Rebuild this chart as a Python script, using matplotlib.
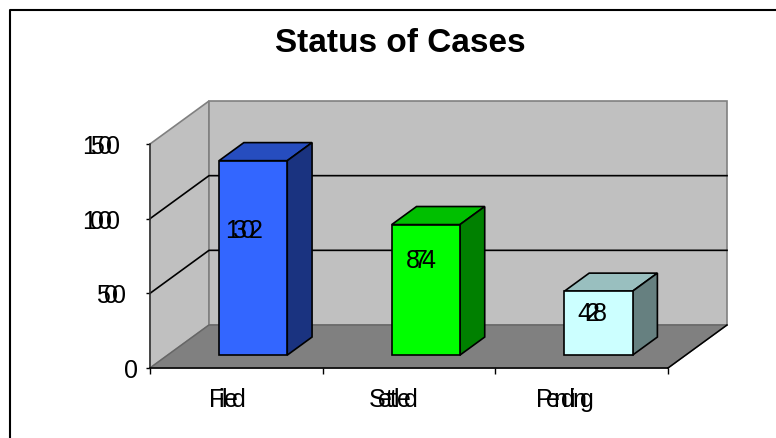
import matplotlib.pyplot as plt
from matplotlib.patches import Polygon
from matplotlib.lines import Line2D
from matplotlib.text import Text
from matplotlib.transforms import IdentityTransform, offset_copy
from matplotlib import font_manager
from matplotlib.ft2font import LoadFlags

categories = ["Filed", "Settled", "Pending"]
values = [1302, 874, 428]
y_ticks = [0, 500, 1000, 1500]
face_colors = ["#3366ff", "#00ff00", "#ccffff"]
top_colors = ["#264dbf", "#00bf00", "#99bfbf"]
side_colors = ["#1a3380", "#008000", "#668080"]

W, H = 776, 438
YMAX = 1500
# wall offset of the 3d box, in data units
DX = 59 / 518 * 3
DY = 43 / 224 * YMAX
BAR_W = 0.395
D0, D1 = 0.30, 0.72
SQUEEZE = 0.56

# where the value labels sit on the front face (fraction of height, pixel shift)
label_frac = [0.60, 0.665, 0.54]
label_shift = [-9, -5.5, -6]
cat_shift = [0, -7, -8]


def advance(ch, fp, dpi):
    font = font_manager.get_font(font_manager.findfont(fp))
    font.set_size(fp.get_size_in_points(), dpi)
    glyph = font.load_char(ord(ch), flags=LoadFlags.NO_HINTING)
    return glyph.linearHoriAdvance / 65536


class SqueezedText(Text):
    # one text whose letters are pushed together, the reference has overlapping glyphs
    def draw(self, renderer):
        s = self.get_text()
        fp = self.get_fontproperties()
        dpi = self.get_figure().dpi
        adv = [advance(c, fp, dpi) for c in s]
        x, y = self.get_transform().transform(self.get_position())
        if self.get_ha() == "center":
            x -= (sum(adv[:-1]) * SQUEEZE + adv[-1]) / 2
        elif self.get_ha() == "right":
            x -= sum(adv)
        for c, a in zip(s, adv):
            t = Text(x, y, c, fontproperties=fp, color=self.get_color(), ha="left",
                     va="baseline", transform=IdentityTransform())
            t.set_figure(self.get_figure())
            t.draw(renderer)
            x += a * SQUEEZE


def proj(x, y, d=0):
    return (x + d * DX, y + d * DY)


def squeezed(ax, x, y, s, ha, dx, dy):
    tr = offset_copy(ax.transData, fig=ax.figure, x=dx, y=dy, units="dots")
    t = SqueezedText(x, y, s, ha=ha, va="baseline", family="Liberation Sans", fontsize=18,
                     color="black", transform=tr, zorder=6, clip_on=False)
    ax.add_artist(t)


fig = plt.figure(figsize=(W / 100, H / 100), dpi=100)
fig.add_artist(Line2D([10 / W, 10 / W, 1], [0, 1 - 9.5 / H, 1 - 9.5 / H], transform=fig.transFigure,
                      color="black", lw=1.5))
ax = fig.add_axes([150 / W, 1 - 368 / H, 518 / W, 224 / H])
ax.set_xlim(0, 3)
ax.set_ylim(0, YMAX)
ax.patch.set_visible(False)
for s in ["top", "right"]:
    ax.spines[s].set_visible(False)
for s in ["left", "bottom"]:
    ax.spines[s].set_color("black")
    ax.spines[s].set_linewidth(1.1)
ax.spines["left"].set_color("#333333")

# walls and floor
ax.add_patch(Polygon([proj(0, 0), proj(0, 0, 1), proj(0, YMAX, 1), proj(0, YMAX)],
                     fc="#c0c0c0", ec="#808080", lw=1.2, clip_on=False, zorder=1))
ax.add_patch(Polygon([proj(0, 0, 1), proj(3, 0, 1), proj(3, YMAX, 1), proj(0, YMAX, 1)],
                     fc="#c0c0c0", ec="#808080", lw=1.2, clip_on=False, zorder=1))
ax.add_patch(Polygon([proj(0, 0), proj(3, 0), proj(3, 0, 1), proj(0, 0, 1)],
                     fc="#808080", ec="#666666", lw=1, clip_on=False, zorder=1))
ax.plot(*zip(proj(3, 0), proj(3, 0, 1)), color="black", lw=1.1, clip_on=False, zorder=2)

# gridlines
for t in y_ticks[1:-1]:
    xs, ys = zip(proj(0, t), proj(0, t, 1), proj(3, t, 1))
    ax.plot(xs, ys, color="black", lw=1.2, clip_on=False, zorder=2)

# bars
for i, v in enumerate(values):
    l = i + 0.495 - BAR_W / 2
    r = i + 0.495 + BAR_W / 2
    ax.add_patch(Polygon([proj(l, v, D0), proj(r, v, D0), proj(r, v, D1), proj(l, v, D1)],
                         fc=top_colors[i], ec="black", lw=1.2, clip_on=False, zorder=3))
    ax.add_patch(Polygon([proj(r, 0, D0), proj(r, 0, D1), proj(r, v, D1), proj(r, v, D0)],
                         fc=side_colors[i], ec="black", lw=1.2, clip_on=False, zorder=3))
    ax.add_patch(Polygon([proj(l, 0, D0), proj(r, 0, D0), proj(r, v, D0), proj(l, v, D0)],
                         fc=face_colors[i], ec="black", lw=1.2, clip_on=False, zorder=4))
    px, py = proj(i + 0.495, v * label_frac[i], D0)
    squeezed(ax, px, py, str(v), "center", label_shift[i], 0)

ax.set_yticks(y_ticks)
ax.set_yticklabels([])
ax.set_xticks([0, 1, 2, 3])
ax.set_xticklabels([])
ax.tick_params(axis="y", length=3, width=1, color="black")
ax.tick_params(axis="x", length=4, width=1, color="black")
for t in y_ticks:
    squeezed(ax, 0, t, str(t), "right", -12, -10)
for i, c in enumerate(categories):
    squeezed(ax, i + 0.45, 0, c, "center", cat_shift[i], -39)

fig.text(400 / W, 1 - 43 / H, "Status of Cases", ha="center", va="center",
         family="Liberation Sans", weight="bold", fontsize=24)

fig.savefig("out.png", dpi=100)
